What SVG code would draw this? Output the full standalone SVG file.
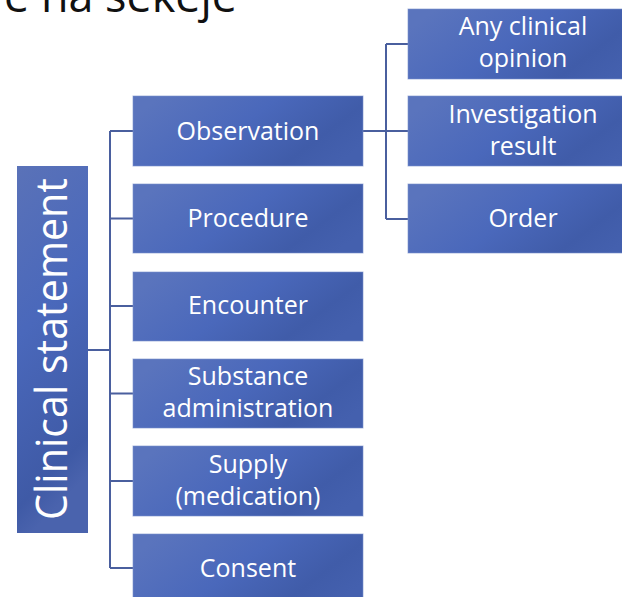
<svg xmlns="http://www.w3.org/2000/svg" width="622" height="597" viewBox="0 0 622 597">
<defs>
<linearGradient id="g" x1="0" y1="0.3" x2="1" y2="0.7">
<stop offset="0" stop-color="#5a74bd"/>
<stop offset="0.45" stop-color="#4a68bb"/>
<stop offset="0.8" stop-color="#405ca9"/>
<stop offset="1" stop-color="#4460ae"/>
</linearGradient>
<linearGradient id="gv" x1="0" y1="0" x2="0.2" y2="1">
<stop offset="0" stop-color="#5a72b8"/>
<stop offset="0.45" stop-color="#4a68bb"/>
<stop offset="0.9" stop-color="#3f5aa6"/>
<stop offset="1" stop-color="#4a63ad"/>
</linearGradient>
<style>
.box{fill:url(#g);stroke:#7a8fcc;stroke-width:1;stroke-opacity:0.6}
.t{font-family:"Open Sans","DejaVu Sans",sans-serif;font-size:25px;fill:#ffffff;text-anchor:middle}
.c{fill:none;stroke:#4a5f9e;stroke-width:2}
</style>
</defs>
<rect width="622" height="597" fill="#ffffff"/>
<text x="4" y="12" font-family="Open Sans, DejaVu Sans, sans-serif" font-size="46" fill="#111111" textLength="233" lengthAdjust="spacingAndGlyphs">e na sekeje</text>
<g id="connectors">
<path class="c" d="M88 350 H110 M110 131 V568 M110 131 H133 M110 218.5 H133 M110 306 H133 M110 393.5 H133 M110 481 H133 M110 568 H133"/>
<path class="c" d="M363 131 H408 M386 44 V219 M386 44 H408 M386 219 H408"/>
</g>
<g id="clinical-statement">
<rect x="17" y="166" width="71" height="367" fill="url(#gv)"/>
<text transform="translate(67 349) rotate(-90)" font-family="Open Sans, DejaVu Sans, sans-serif" font-size="44" fill="#ffffff" text-anchor="middle" textLength="342" lengthAdjust="spacingAndGlyphs">Clinical statement</text>
</g>
<g id="observation">
<rect class="box" x="133" y="96" width="230" height="70"/>
<text class="t" x="248" y="140">Observation</text>
</g>
<g id="procedure">
<rect class="box" x="133" y="184" width="230" height="69"/>
<text class="t" x="248" y="227">Procedure</text>
</g>
<g id="encounter">
<rect class="box" x="133" y="272" width="230" height="69"/>
<text class="t" x="248" y="314">Encounter</text>
</g>
<g id="substance-administration">
<rect class="box" x="133" y="359" width="230" height="69"/>
<text class="t" x="248" y="385">Substance</text>
<text class="t" x="248" y="417">administration</text>
</g>
<g id="supply">
<rect class="box" x="133" y="446" width="230" height="70"/>
<text class="t" x="248" y="473">Supply</text>
<text class="t" x="248" y="505">(medication)</text>
</g>
<g id="consent">
<rect class="box" x="133" y="534" width="230" height="70"/>
<text class="t" x="248" y="577">Consent</text>
</g>
<g id="any-clinical-opinion">
<rect class="box" x="408" y="9" width="230" height="70"/>
<text class="t" x="523" y="35">Any clinical</text>
<text class="t" x="523" y="67">opinion</text>
</g>
<g id="investigation-result">
<rect class="box" x="408" y="96" width="230" height="70"/>
<text class="t" x="523" y="123">Investigation</text>
<text class="t" x="523" y="155">result</text>
</g>
<g id="order">
<rect class="box" x="408" y="184" width="230" height="69"/>
<text class="t" x="523" y="227">Order</text>
</g>
</svg>
